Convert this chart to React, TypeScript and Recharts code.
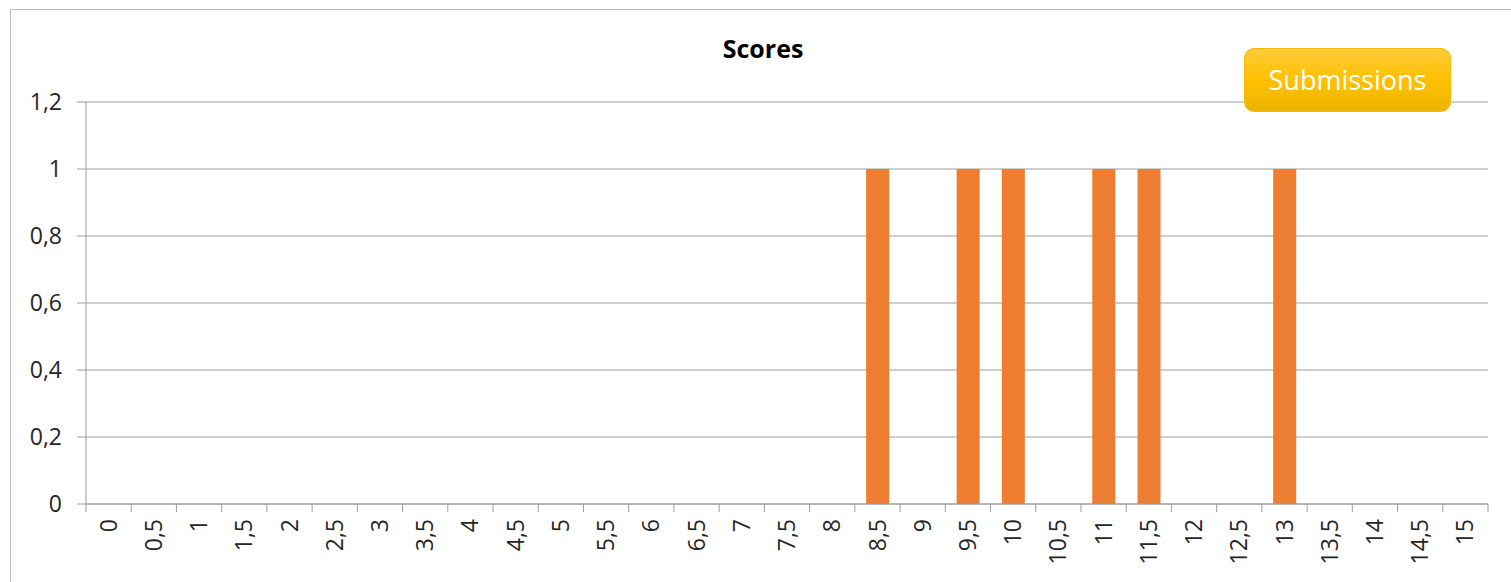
import { BarChart, Bar, XAxis, YAxis, CartesianGrid, Legend } from "recharts";

const scoreLabels = [
  "0", "0,5", "1", "1,5", "2", "2,5", "3", "3,5", "4", "4,5", "5", "5,5",
  "6", "6,5", "7", "7,5", "8", "8,5", "9", "9,5", "10", "10,5", "11", "11,5",
  "12", "12,5", "13", "13,5", "14", "14,5", "15",
];
const submissions = [
  0, 0, 0, 0, 0, 0, 0, 0, 0, 0, 0, 0,
  0, 0, 0, 0, 0, 1, 0, 1, 1, 0, 1, 1,
  0, 0, 1, 0, 0, 0, 0,
];
const yTicks = [0, 0.2, 0.4, 0.6, 0.8, 1, 1.2];

const data = scoreLabels.map((score, i) => ({ score, Submissions: submissions[i] }));

const AXIS = "#9e9e9e";
const TEXT = "#262626";
const FONT = "'Open Sans', sans-serif";

// category tick: label in the middle, tick mark on the band boundaries
const ScoreTick = (props: any) => {
  const { x, y, payload, index } = props;
  const half = payload?.offset ?? 22.6;
  const last = index === scoreLabels.length - 1;
  return (
    <g>
      <line x1={x - half} x2={x - half} y1={y - 8} y2={y} stroke={AXIS} />
      {last && <line x1={x + half} x2={x + half} y1={y - 8} y2={y} stroke={AXIS} />}
      <text
        transform={`translate(${x},${y + 7}) rotate(-90)`}
        textAnchor="end"
        dy="0.35em"
        fontSize={23}
        fill={TEXT}
        fontFamily={FONT}
      >
        {payload.value}
      </text>
    </g>
  );
};

const LegendBox = () => (
  <div
    style={{
      width: 207,
      height: 64,
      boxSizing: "border-box",
      borderRadius: 10,
      border: "1px solid #f2b900",
      background: "linear-gradient(#ffcb3a 0%, #ffc000 50%, #ecb400 100%)",
      color: "#fff",
      fontFamily: FONT,
      fontSize: 27,
      lineHeight: "62px",
      textAlign: "center",
    }}
  >
    Submissions
  </div>
);

export default function App() {
  return (
    <div
      style={{
        position: "absolute",
        left: 8,
        top: 8,
        width: 1503,
        height: 574,
        overflow: "hidden",
        fontFamily: FONT,
        background: "#fff",
      }}
    >
      <div
        style={{
          position: "absolute",
          left: 2,
          top: 1,
          width: 1520,
          height: 620,
          border: "1px solid #bdbdbd",
        }}
      />
      <div
        style={{
          position: "absolute",
          left: 0,
          width: 1510,
          top: 23,
          textAlign: "center",
          fontWeight: 700,
          fontSize: 25,
          color: "#000",
          fontFamily: FONT,
        }}
      >
        Scores
      </div>
      <BarChart
        width={1503}
        height={574}
        data={data}
        margin={{ top: 94, right: 23, bottom: 0, left: 0 }}
        barCategoryGap="25%"
        style={{ position: "absolute", left: 0, top: 0 }}
      >
        <CartesianGrid vertical={false} stroke={AXIS} />
        <XAxis
          dataKey="score"
          height={78}
          stroke={AXIS}
          tickLine={false}
          interval={0}
          tick={<ScoreTick />}
        />
        <YAxis
          width={78}
          domain={[0, 1.2]}
          ticks={yTicks}
          stroke={AXIS}
          tickSize={9}
          tickMargin={15}
          tickFormatter={(v: number) => String(v).replace(".", ",")}
          tick={{ fontSize: 23, fill: TEXT, fontFamily: FONT }}
        />
        <Legend
          layout="vertical"
          align="center"
          verticalAlign="middle"
          content={<LegendBox />}
          wrapperStyle={{ left: 1236, top: 40, width: 207, height: 64 }}
        />
        <Bar dataKey="Submissions" fill="#ed7d31" isAnimationActive={false} />
      </BarChart>
    </div>
  );
}
